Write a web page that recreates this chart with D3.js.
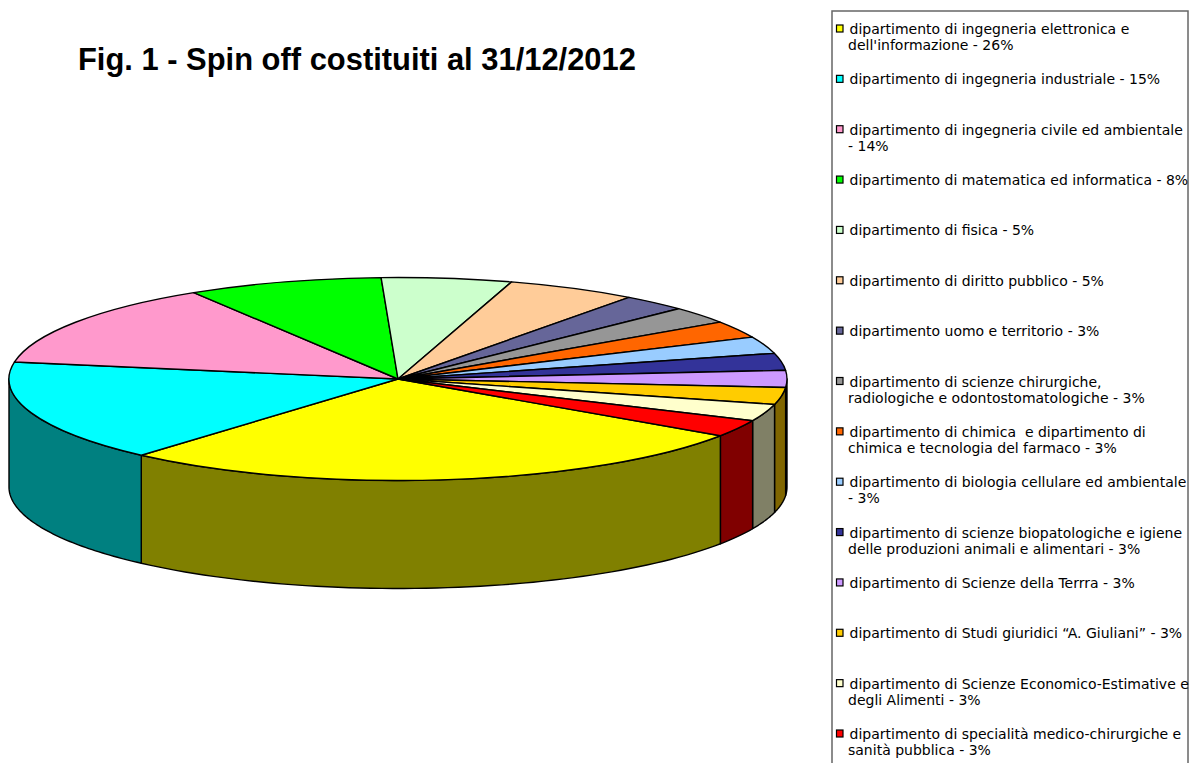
<!DOCTYPE html>
<html>
<head>
<meta charset="utf-8">
<title>Spin off costituiti al 31/12/2012</title>
<script src="https://cdn.jsdelivr.net/npm/d3@7"></script>
<style>
html, body { margin: 0; padding: 0; background: #fff; overflow: hidden; }
#chart { display: block; }
.title { font: bold 30.9px "Liberation Sans", Arial, sans-serif; fill: #000; }
.legend-text { font: 14px "DejaVu Sans", Verdana, sans-serif; fill: #000; white-space: pre; }
</style>
</head>
<body>
<svg id="chart" width="1192" height="763"></svg>
<script>
// Number of spin offs per department (shares on the legend)
const departments = [
    ["dipartimento di ingegneria elettronica e", "dell'informazione - 26%"],
    ["dipartimento di ingegneria industriale - 15%"],
    ["dipartimento di ingegneria civile ed ambientale", "- 14%"],
    ["dipartimento di matematica ed informatica - 8%"],
    ["dipartimento di fisica - 5%"],
    ["dipartimento di diritto pubblico - 5%"],
    ["dipartimento uomo e territorio - 3%"],
    ["dipartimento di scienze chirurgiche,", "radiologiche e odontostomatologiche - 3%"],
    ["dipartimento di chimica  e dipartimento di", "chimica e tecnologia del farmaco - 3%"],
    ["dipartimento di biologia cellulare ed ambientale", "- 3%"],
    ["dipartimento di scienze biopatologiche e igiene", "delle produzioni animali e alimentari - 3%"],
    ["dipartimento di Scienze della Terrra - 3%"],
    ["dipartimento di Studi giuridici “A. Giuliani” - 3%"],
    ["dipartimento di Scienze Economico-Estimative e", "degli Alimenti - 3%"],
    ["dipartimento di specialità medico-chirurgiche e", "sanità pubblica - 3%"]
];
const counts = [10, 6, 5, 3, 2, 2, 1, 1, 1, 1, 1, 1, 1, 1, 1];
const colors = ["#FFFF00", "#00FFFF", "#FF99CC", "#00FF00", "#CCFFCC", "#FFCC99", "#666699", "#969696",
    "#FF6600", "#99CCFF", "#333399", "#CC99FF", "#FFCC00", "#FFFFCC", "#FF0000"];

const svg = d3.select("#chart");

// Pie geometry
const cx = 398, cy = 379;
const rx = 389, ry = 101.5, depth = 108;
const startAngle = 124 * Math.PI / 180;

const slices = d3.pie().sort(null)
    .startAngle(startAngle)
    .endAngle(startAngle + 2 * Math.PI)(counts);

// Side wall colour is the slice colour at half brightness
function sideColor(c) {
    const rgb = d3.rgb(c);
    return d3.rgb(rgb.r / 2, rgb.g / 2, rgb.b / 2).formatHex();
}

function rimPoint(angle, drop) {
    return [cx + rx * Math.sin(angle), cy - ry * Math.cos(angle) + drop];
}

// Front wall: only the part of each slice between 90 and 270 degrees shows
const line = d3.line();
const wall = svg.append("g");
slices.forEach((s, i) => {
    // normalise so the angle range can be compared with the visible half
    let a0 = s.startAngle, a1 = s.endAngle;
    [0, 2 * Math.PI].forEach(shift => {
        const from = Math.max(a0 - shift, Math.PI / 2);
        const to = Math.min(a1 - shift, 3 * Math.PI / 2);
        if (from >= to) return;
        const steps = d3.range(0, 61).map(k => from + (to - from) * k / 60);
        const top = steps.map(a => rimPoint(a, 0));
        const bottom = steps.slice().reverse().map(a => rimPoint(a, depth));
        wall.append("path")
            .attr("d", line(top.concat(bottom)) + "Z")
            .attr("fill", sideColor(colors[i]))
            .attr("stroke", "#000")
            .attr("stroke-width", 1.4)
            .attr("stroke-linejoin", "round");
    });
});

// Top face: circular arcs squashed into an ellipse
const arc = d3.arc().innerRadius(0).outerRadius(rx);
svg.append("g")
    .attr("transform", `translate(${cx},${cy}) scale(1,${ry / rx})`)
    .selectAll("path")
    .data(slices)
    .join("path")
    .attr("d", arc)
    .attr("fill", (d, i) => colors[i])
    .attr("stroke", "#000")
    .attr("stroke-width", 1.4)
    .attr("vector-effect", "non-scaling-stroke")
    .attr("stroke-linejoin", "round");

// Title
svg.append("text")
    .attr("class", "title")
    .attr("x", 78)
    .attr("y", 69.5)
    .text("Fig. 1 - Spin off costituiti al 31/12/2012");

// Legend, its lower edge runs off the page
svg.append("rect")
    .attr("x", 832)
    .attr("y", 11)
    .attr("width", 356)
    .attr("height", 800)
    .attr("fill", "#fff")
    .attr("stroke", "#666")
    .attr("stroke-width", 1.5);

const rowY = d3.scaleLinear().domain([0, departments.length - 1]).range([29, 734]);
const rows = svg.append("g").selectAll("g")
    .data(departments)
    .join("g")
    .attr("transform", (d, i) => `translate(0,${rowY(i)})`);

rows.append("rect")
    .attr("x", 836.5)
    .attr("y", -4)
    .attr("width", 6.5)
    .attr("height", 7)
    .attr("fill", (d, i) => colors[i])
    .attr("stroke", "#000")
    .attr("stroke-width", 1.2);

rows.each(function(d) {
    d3.select(this).selectAll("text")
        .data(d)
        .join("text")
        .attr("class", "legend-text")
        .attr("x", (t, j) => j === 0 ? 849.5 : 848)
        .attr("y", (t, j) => 5 + j * 16)
        .text(t => t);
});
</script>
</body>
</html>
